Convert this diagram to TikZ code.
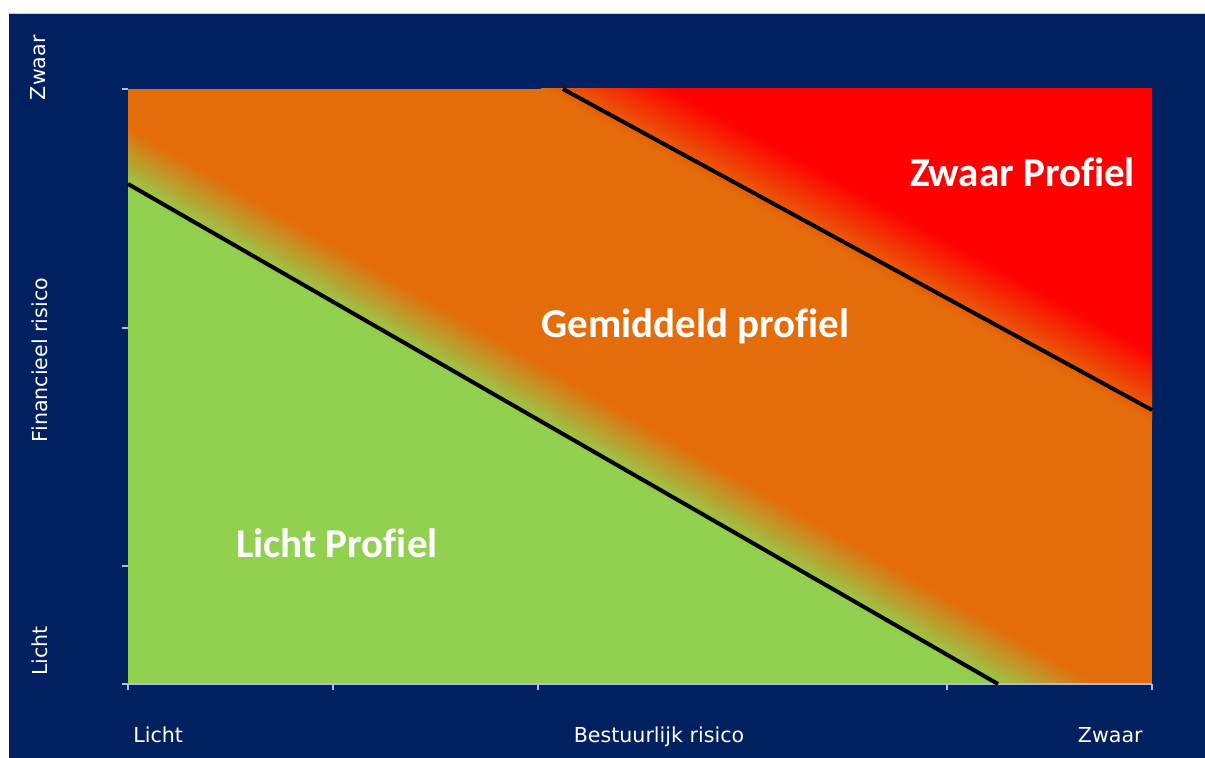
\documentclass[tikz,border=0pt]{standalone}
\usepackage{fontspec}
\usetikzlibrary{calc}
\newfontfamily\axfont{DejaVu Sans}
\newfontfamily\lblfont{Carlito}[Ligatures=NoCommon]
\definecolor{navy}{RGB}{0,32,96}
\definecolor{grn}{RGB}{146,208,80}
\definecolor{orng}{RGB}{228,108,10}
\definecolor{rd}{RGB}{255,0,0}
\definecolor{tickc}{RGB}{170,190,225}
\tikzset{
  axlabel/.style={text=white,font=\axfont\fontsize{10.3}{12}\selectfont,inner sep=0pt},
  zonelabel/.style={text=white,font=\lblfont\bfseries\fontsize{20.5}{24}\selectfont,inner sep=0pt},
  border/.style={black,line width=2pt},
  tickline/.style={tickc,line width=0.9pt}
}
\begin{document}
\begin{tikzpicture}[x=0.5pt,y=-0.5pt]
\useasboundingbox (0,0) rectangle (1205,758);
\fill[white] (0,0) rectangle (1205,758);
\fill[navy] (9,14) rectangle (1205,758);
\draw[gray!40,line width=0.5pt] (9,14) -- (1205,14);
% key points
\coordinate (A) at (128,184);
\coordinate (B) at (998,684);
\coordinate (C) at (563,89);
\coordinate (D) at (1152,410);
\coordinate (Ae) at (-912.5,-414);
\coordinate (Be) at (2038.5,1282);
\coordinate (Ce) at (-490.7,-485.2);
\coordinate (De) at (2205.7,984.2);
\begin{scope}
\clip (128,89) rectangle (1152,684);
\fill[orng] (128,89) rectangle (1152,684);
% green region
\fill[grn] ($(Ae)+(-4*0.4983,4*0.8671)$) -- ($(Be)+(-4*0.4983,4*0.8671)$) -- ($(Be)+(-996.6,1734.2)$) -- ($(Ae)+(-996.6,1734.2)$) -- cycle;
% green to orange band
\foreach \i in {0,...,29} {
  \pgfmathsetmacro\ta{-5+\i*55/30}
  \pgfmathsetmacro\tb{-5+(\i+1)*55/30+0.8}
  \pgfmathsetmacro\pc{100-100*(\i+0.5)/30}
  \fill[grn!\pc!orng] ($(Ae)+(\ta*0.4983,-\ta*0.8671)$) -- ($(Be)+(\ta*0.4983,-\ta*0.8671)$) -- ($(Be)+(\tb*0.4983,-\tb*0.8671)$) -- ($(Ae)+(\tb*0.4983,-\tb*0.8671)$) -- cycle;
}
% orange to red band
\foreach \i in {0,...,29} {
  \pgfmathsetmacro\ta{-10+\i*62/30}
  \pgfmathsetmacro\tb{-10+(\i+1)*62/30+0.8}
  \pgfmathsetmacro\pc{100-100*(\i+0.5)/30}
  \fill[orng!\pc!rd] ($(Ce)+(\ta*0.4785,-\ta*0.8781)$) -- ($(De)+(\ta*0.4785,-\ta*0.8781)$) -- ($(De)+(\tb*0.4785,-\tb*0.8781)$) -- ($(Ce)+(\tb*0.4785,-\tb*0.8781)$) -- cycle;
}
% red region
\fill[rd] ($(Ce)+(52*0.4785,-52*0.8781)$) -- ($(De)+(52*0.4785,-52*0.8781)$) -- ($(De)+(957,-1756.2)$) -- ($(Ce)+(957,-1756.2)$) -- cycle;
\end{scope}
% axis and ticks
\coordinate (O) at (128,684);
\coordinate (XE) at (1152,684);
\draw[tickline] (O) -- (XE);
\foreach \x in {128,333,538,947,1152} \draw[tickline] (\x,684) -- (\x,690);
\foreach \y in {89,328,566,684} \draw[tickline] (128,\y) -- (122,\y);
% boundary lines
\draw[border] (A) -- (B);
\draw[border] (C) -- (D);
% zone labels
\node[zonelabel,anchor=base] (zwaarp) at (1022.5,187) {Zwaar Profiel};
\node[zonelabel,anchor=base] (gemp) at (695.5,338) {Gemiddeld profiel};
\node[zonelabel,anchor=base] (lichtp) at (337,558) {Licht Profiel};
% axis labels
\node[axlabel,anchor=base west] (xl) at (133,742) {Licht};
\node[axlabel,anchor=base] (xm) at (659,742) {Bestuurlijk risico};
\node[axlabel,anchor=base east] (xr) at (1143,742) {Zwaar};
\node[axlabel,rotate=90,anchor=base west] (yl) at (47,676) {Licht};
\node[axlabel,rotate=90,anchor=base] (ym) at (47,360) {Financieel risico};
\node[axlabel,rotate=90,anchor=base east] (yr) at (46,35) {Zwaar};
\end{tikzpicture}
\end{document}
